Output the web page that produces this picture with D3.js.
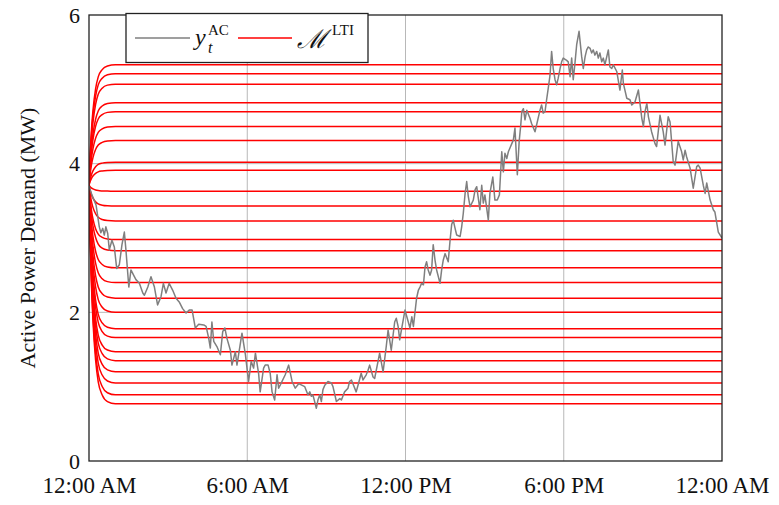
<!DOCTYPE html>
<html>
<head>
<meta charset="utf-8">
<script src="https://cdn.jsdelivr.net/npm/d3@7"></script>
<style>
  body { margin: 0; background: #fff; }
  svg { display: block; font-family: "Liberation Serif", "Times New Roman", serif; }
</style>
</head>
<body>
<div id="chart"></div>
<script>
// measured load (hours after midnight, MW)
var hours = [0, 0.11, 0.27, 0.39, 0.45, 0.52, 0.58, 0.64, 0.71, 0.77, 0.87, 0.96, 1.05, 1.15, 1.25, 1.34, 1.40, 1.51, 1.59, 1.72,
  1.78, 1.91, 2.04, 2.10, 2.23, 2.35, 2.48, 2.60, 2.73, 2.82, 2.92, 3.04, 3.17, 3.30, 3.42, 3.55, 3.68, 3.80, 3.91, 4.03,
  4.16, 4.35, 4.44, 4.54, 4.60, 4.66, 4.73, 4.85, 4.98, 5.07, 5.15, 5.23, 5.36, 5.42, 5.55, 5.61, 5.80, 5.93, 6.05, 6.15,
  6.24, 6.31, 6.43, 6.49, 6.62, 6.68, 6.79, 6.87, 6.94, 7.04, 7.13, 7.19, 7.25, 7.44, 7.57, 7.70, 7.82, 7.95, 8.18, 8.30,
  8.37, 8.43, 8.49, 8.62, 8.68, 8.75, 8.81, 8.87, 8.94, 9.06, 9.19, 9.25, 9.38, 9.51, 9.57, 9.69, 9.82, 9.88, 9.95, 10.13,
  10.20, 10.32, 10.39, 10.51, 10.58, 10.64, 10.77, 10.83, 11.02, 11.15, 11.27, 11.34, 11.46, 11.59, 11.65, 11.72, 11.78, 11.84, 11.98, 12.05,
  12.17, 12.24, 12.30, 12.42, 12.49, 12.55, 12.61, 12.68, 12.74, 12.80, 12.86, 12.93, 12.99, 13.05, 13.12, 13.18, 13.31, 13.37, 13.43, 13.50,
  13.62, 13.69, 13.75, 13.81, 13.88, 13.94, 14.07, 14.13, 14.19, 14.26, 14.32, 14.38, 14.45, 14.57, 14.64, 14.70, 14.82, 14.89, 14.95, 15.01,
  15.14, 15.20, 15.31, 15.39, 15.48, 15.56, 15.65, 15.71, 15.77, 15.84, 15.90, 15.96, 16.03, 16.09, 16.15, 16.24, 16.31, 16.37, 16.41, 16.47,
  16.53, 16.60, 16.72, 16.78, 16.91, 16.97, 17.10, 17.16, 17.22, 17.29, 17.35, 17.41, 17.48, 17.54, 17.60, 17.67, 17.73, 17.79, 17.86, 17.92,
  17.98, 18.11, 18.17, 18.24, 18.30, 18.36, 18.43, 18.49, 18.58, 18.68, 18.74, 18.81, 18.87, 18.93, 19.00, 19.06, 19.12, 19.18, 19.25, 19.31,
  19.37, 19.44, 19.50, 19.56, 19.69, 19.75, 19.82, 19.88, 20.01, 20.13, 20.22, 20.26, 20.39, 20.51, 20.58, 20.70, 20.83, 20.96, 21.02, 21.08,
  21.15, 21.21, 21.33, 21.46, 21.52, 21.65, 21.77, 21.84, 21.96, 22.03, 22.15, 22.22, 22.34, 22.47, 22.53, 22.60, 22.66, 22.79, 22.91, 23.04,
  23.10, 23.17, 23.29, 23.36, 23.42, 23.55, 23.67, 23.73, 23.86, 24];
var demand = [3.70, 3.58, 3.44, 3.15, 3.07, 3.13, 3.04, 3.15, 3.06, 2.84, 2.97, 2.88, 2.59, 2.64, 2.91, 3.08, 2.84, 2.34, 2.57, 2.48,
  2.44, 2.39, 2.26, 2.23, 2.34, 2.48, 2.34, 2.10, 2.21, 2.39, 2.26, 2.39, 2.30, 2.19, 2.14, 2.05, 1.99, 2.03, 2.03, 1.79,
  1.84, 1.83, 1.81, 1.65, 1.52, 1.87, 1.61, 1.54, 1.43, 1.74, 1.79, 1.65, 1.49, 1.29, 1.47, 1.29, 1.72, 1.43, 1.07, 1.34,
  1.25, 1.45, 1.18, 0.93, 1.25, 1.29, 1.29, 1.18, 0.93, 0.82, 1.16, 0.98, 1.02, 1.16, 1.29, 1.07, 0.98, 1.04, 1.00, 0.89,
  0.93, 0.87, 0.89, 0.71, 0.82, 0.89, 0.80, 0.96, 1.02, 1.07, 1.05, 1.00, 0.80, 0.84, 0.82, 0.93, 0.98, 1.07, 1.09, 0.93,
  1.02, 1.18, 1.09, 1.16, 1.22, 1.29, 1.13, 1.11, 1.45, 1.20, 1.54, 1.76, 1.49, 1.87, 1.92, 1.81, 1.63, 1.75, 2.03, 1.94,
  1.79, 1.94, 1.81, 2.19, 2.30, 2.34, 2.39, 2.37, 2.61, 2.68, 2.57, 2.50, 2.57, 2.91, 2.70, 2.57, 2.39, 2.57, 2.70, 2.79,
  2.68, 2.97, 3.18, 3.24, 3.13, 3.04, 3.02, 3.15, 3.33, 3.60, 3.76, 3.56, 3.42, 3.51, 3.65, 3.69, 3.38, 3.71, 3.47, 3.58,
  3.24, 3.60, 3.82, 3.51, 3.51, 3.58, 4.16, 3.89, 4.14, 4.07, 4.16, 4.21, 4.27, 4.32, 4.48, 3.85, 4.30, 4.52, 4.70, 4.74,
  4.59, 4.72, 4.61, 4.54, 4.43, 4.52, 4.72, 4.79, 4.68, 4.70, 4.86, 5.01, 5.19, 5.51, 5.28, 5.13, 5.06, 5.15, 5.28, 5.37,
  5.42, 5.39, 5.37, 5.17, 5.42, 5.13, 5.37, 5.60, 5.78, 5.44, 5.28, 5.44, 5.53, 5.57, 5.55, 5.49, 5.53, 5.46, 5.51, 5.42,
  5.49, 5.37, 5.42, 5.33, 5.53, 5.30, 5.28, 5.33, 5.24, 4.99, 5.26, 5.08, 4.88, 4.86, 4.79, 4.83, 4.99, 4.61, 4.50, 4.70,
  4.81, 4.63, 4.43, 4.27, 4.23, 4.65, 4.43, 4.25, 4.63, 4.56, 4.03, 3.98, 4.30, 4.16, 4.05, 4.18, 4.09, 3.94, 3.67, 3.96,
  3.98, 3.94, 3.71, 3.60, 3.74, 3.51, 3.38, 3.35, 3.08, 3.00];

// LTI model responses: common start, one settled level per input
var startLevel = 3.71;
var settledLevels = [5.33, 5.21, 5.07, 4.82, 4.70, 4.50, 4.31, 4.02, 3.91, 3.63, 3.43, 3.23, 2.98,
  2.83, 2.60, 2.40, 2.19, 2.00, 1.78, 1.66, 1.47, 1.35, 1.20, 1.05, 0.89, 0.77];
// shape of the transient: share of the gap still left after t hours
var stepTimes = [0, 0.05, 0.1, 0.15, 0.25, 0.35, 0.5, 0.7, 1.0, 24];
var stepLeft = [1, 0.72, 0.52, 0.38, 0.2, 0.1, 0.04, 0.01, 0, 0];

var xTicks = [0, 6, 12, 18, 24];
var xTickLabels = ["12:00 AM", "6:00 AM", "12:00 PM", "6:00 PM", "12:00 AM"];
var yTicks = [0, 2, 4, 6];

var width = 779, height = 505;
var margin = {top: 15, right: 57, bottom: 44, left: 89};

var svg = d3.select("#chart").append("svg")
    .attr("width", width)
    .attr("height", height);

var x = d3.scaleLinear().domain([0, 24]).range([margin.left, width - margin.right]);
var y = d3.scaleLinear().domain([0, 6]).range([height - margin.bottom, margin.top]);

// grid
svg.append("g")
    .selectAll("line")
    .data(xTicks.slice(1, -1))
    .enter().append("line")
    .attr("x1", function(d) { return x(d); })
    .attr("x2", function(d) { return x(d); })
    .attr("y1", y(0))
    .attr("y2", y(6))
    .attr("stroke", "#b8b8b8")
    .attr("stroke-width", 1);

svg.append("g")
    .selectAll("line")
    .data(yTicks.slice(1, -1))
    .enter().append("line")
    .attr("x1", x(0))
    .attr("x2", x(24))
    .attr("y1", function(d) { return y(d); })
    .attr("y2", function(d) { return y(d); })
    .attr("stroke", "#b8b8b8")
    .attr("stroke-width", 1);

svg.append("clipPath").attr("id", "plot-clip")
    .append("rect")
    .attr("x", x(0)).attr("y", y(6))
    .attr("width", x(24) - x(0)).attr("height", y(0) - y(6));

var plot = svg.append("g").attr("clip-path", "url(#plot-clip)");

// model responses
var stepLine = d3.line()
    .x(function(d) { return x(d[0]); })
    .y(function(d) { return y(d[1]); })
    .curve(d3.curveMonotoneX);

plot.selectAll(".model")
    .data(settledLevels)
    .enter().append("path")
    .attr("class", "model")
    .attr("fill", "none")
    .attr("stroke", "#ff0000")
    .attr("stroke-width", 1.5)
    .attr("d", function(level) {
        var pts = stepTimes.map(function(t, i) {
            return [t, level + (startLevel - level) * stepLeft[i]];
        });
        return stepLine(pts);
    });

// measured demand
var demandLine = d3.line()
    .x(function(d, i) { return x(hours[i]); })
    .y(function(d) { return y(d); });

plot.append("path")
    .datum(demand)
    .attr("fill", "none")
    .attr("stroke", "#7f7f7f")
    .attr("stroke-width", 1.5)
    .attr("stroke-linejoin", "round")
    .attr("d", demandLine);

// frame
svg.append("rect")
    .attr("x", x(0)).attr("y", y(6))
    .attr("width", x(24) - x(0)).attr("height", y(0) - y(6))
    .attr("fill", "none")
    .attr("stroke", "#222")
    .attr("stroke-width", 1.3);

// axes
var xAxis = d3.axisBottom(x)
    .tickValues(xTicks)
    .tickSize(0)
    .tickPadding(16)
    .tickFormat(function(d, i) { return xTickLabels[i]; });

svg.append("g")
    .attr("transform", "translate(0," + y(0) + ")")
    .call(xAxis)
    .call(function(g) { g.select(".domain").remove(); })
    .selectAll("text")
    .attr("font-family", "Liberation Serif, serif")
    .attr("font-size", 23)
    .attr("fill", "#111");

var yAxis = d3.axisLeft(y)
    .tickValues(yTicks)
    .tickSize(0)
    .tickPadding(9)
    .tickFormat(d3.format("d"));

svg.append("g")
    .attr("transform", "translate(" + x(0) + ",0)")
    .call(yAxis)
    .call(function(g) { g.select(".domain").remove(); })
    .selectAll("text")
    .attr("font-family", "Liberation Serif, serif")
    .attr("font-size", 22)
    .attr("fill", "#111");

svg.append("text")
    .attr("transform", "translate(35," + ((y(0) + y(6)) / 2) + ") rotate(-90)")
    .attr("text-anchor", "middle")
    .attr("font-size", 22)
    .attr("fill", "#111")
    .text("Active Power Demand (MW)");

// legend
var legend = svg.append("g");
legend.append("rect")
    .attr("x", 126).attr("y", 13.5)
    .attr("width", 242).attr("height", 49)
    .attr("fill", "#fff")
    .attr("stroke", "#222")
    .attr("stroke-width", 1.3);

legend.append("line")
    .attr("x1", 135).attr("x2", 190).attr("y1", 38).attr("y2", 38)
    .attr("stroke", "#7f7f7f").attr("stroke-width", 1.5);
legend.append("line")
    .attr("x1", 238).attr("x2", 292).attr("y1", 38).attr("y2", 38)
    .attr("stroke", "#ff0000").attr("stroke-width", 1.5);

legend.append("text").attr("x", 195).attr("y", 45)
    .attr("font-style", "italic").attr("font-size", 24).attr("fill", "#111").text("y");
legend.append("text").attr("x", 208).attr("y", 53).attr("font-style", "italic")
    .attr("font-size", 16).attr("fill", "#111").text("t");
legend.append("text").attr("x", 208).attr("y", 35)
    .attr("font-size", 15).attr("fill", "#111").text("AC");

legend.append("text").attr("x", 297).attr("y", 48)
    .attr("font-family", "DejaVu Serif, serif").attr("font-style", "italic")
    .attr("font-size", 26).attr("fill", "#111").text("\u2133");
legend.append("text").attr("x", 332).attr("y", 35)
    .attr("font-size", 15).attr("fill", "#111").text("LTI");
</script>
</body>
</html>
